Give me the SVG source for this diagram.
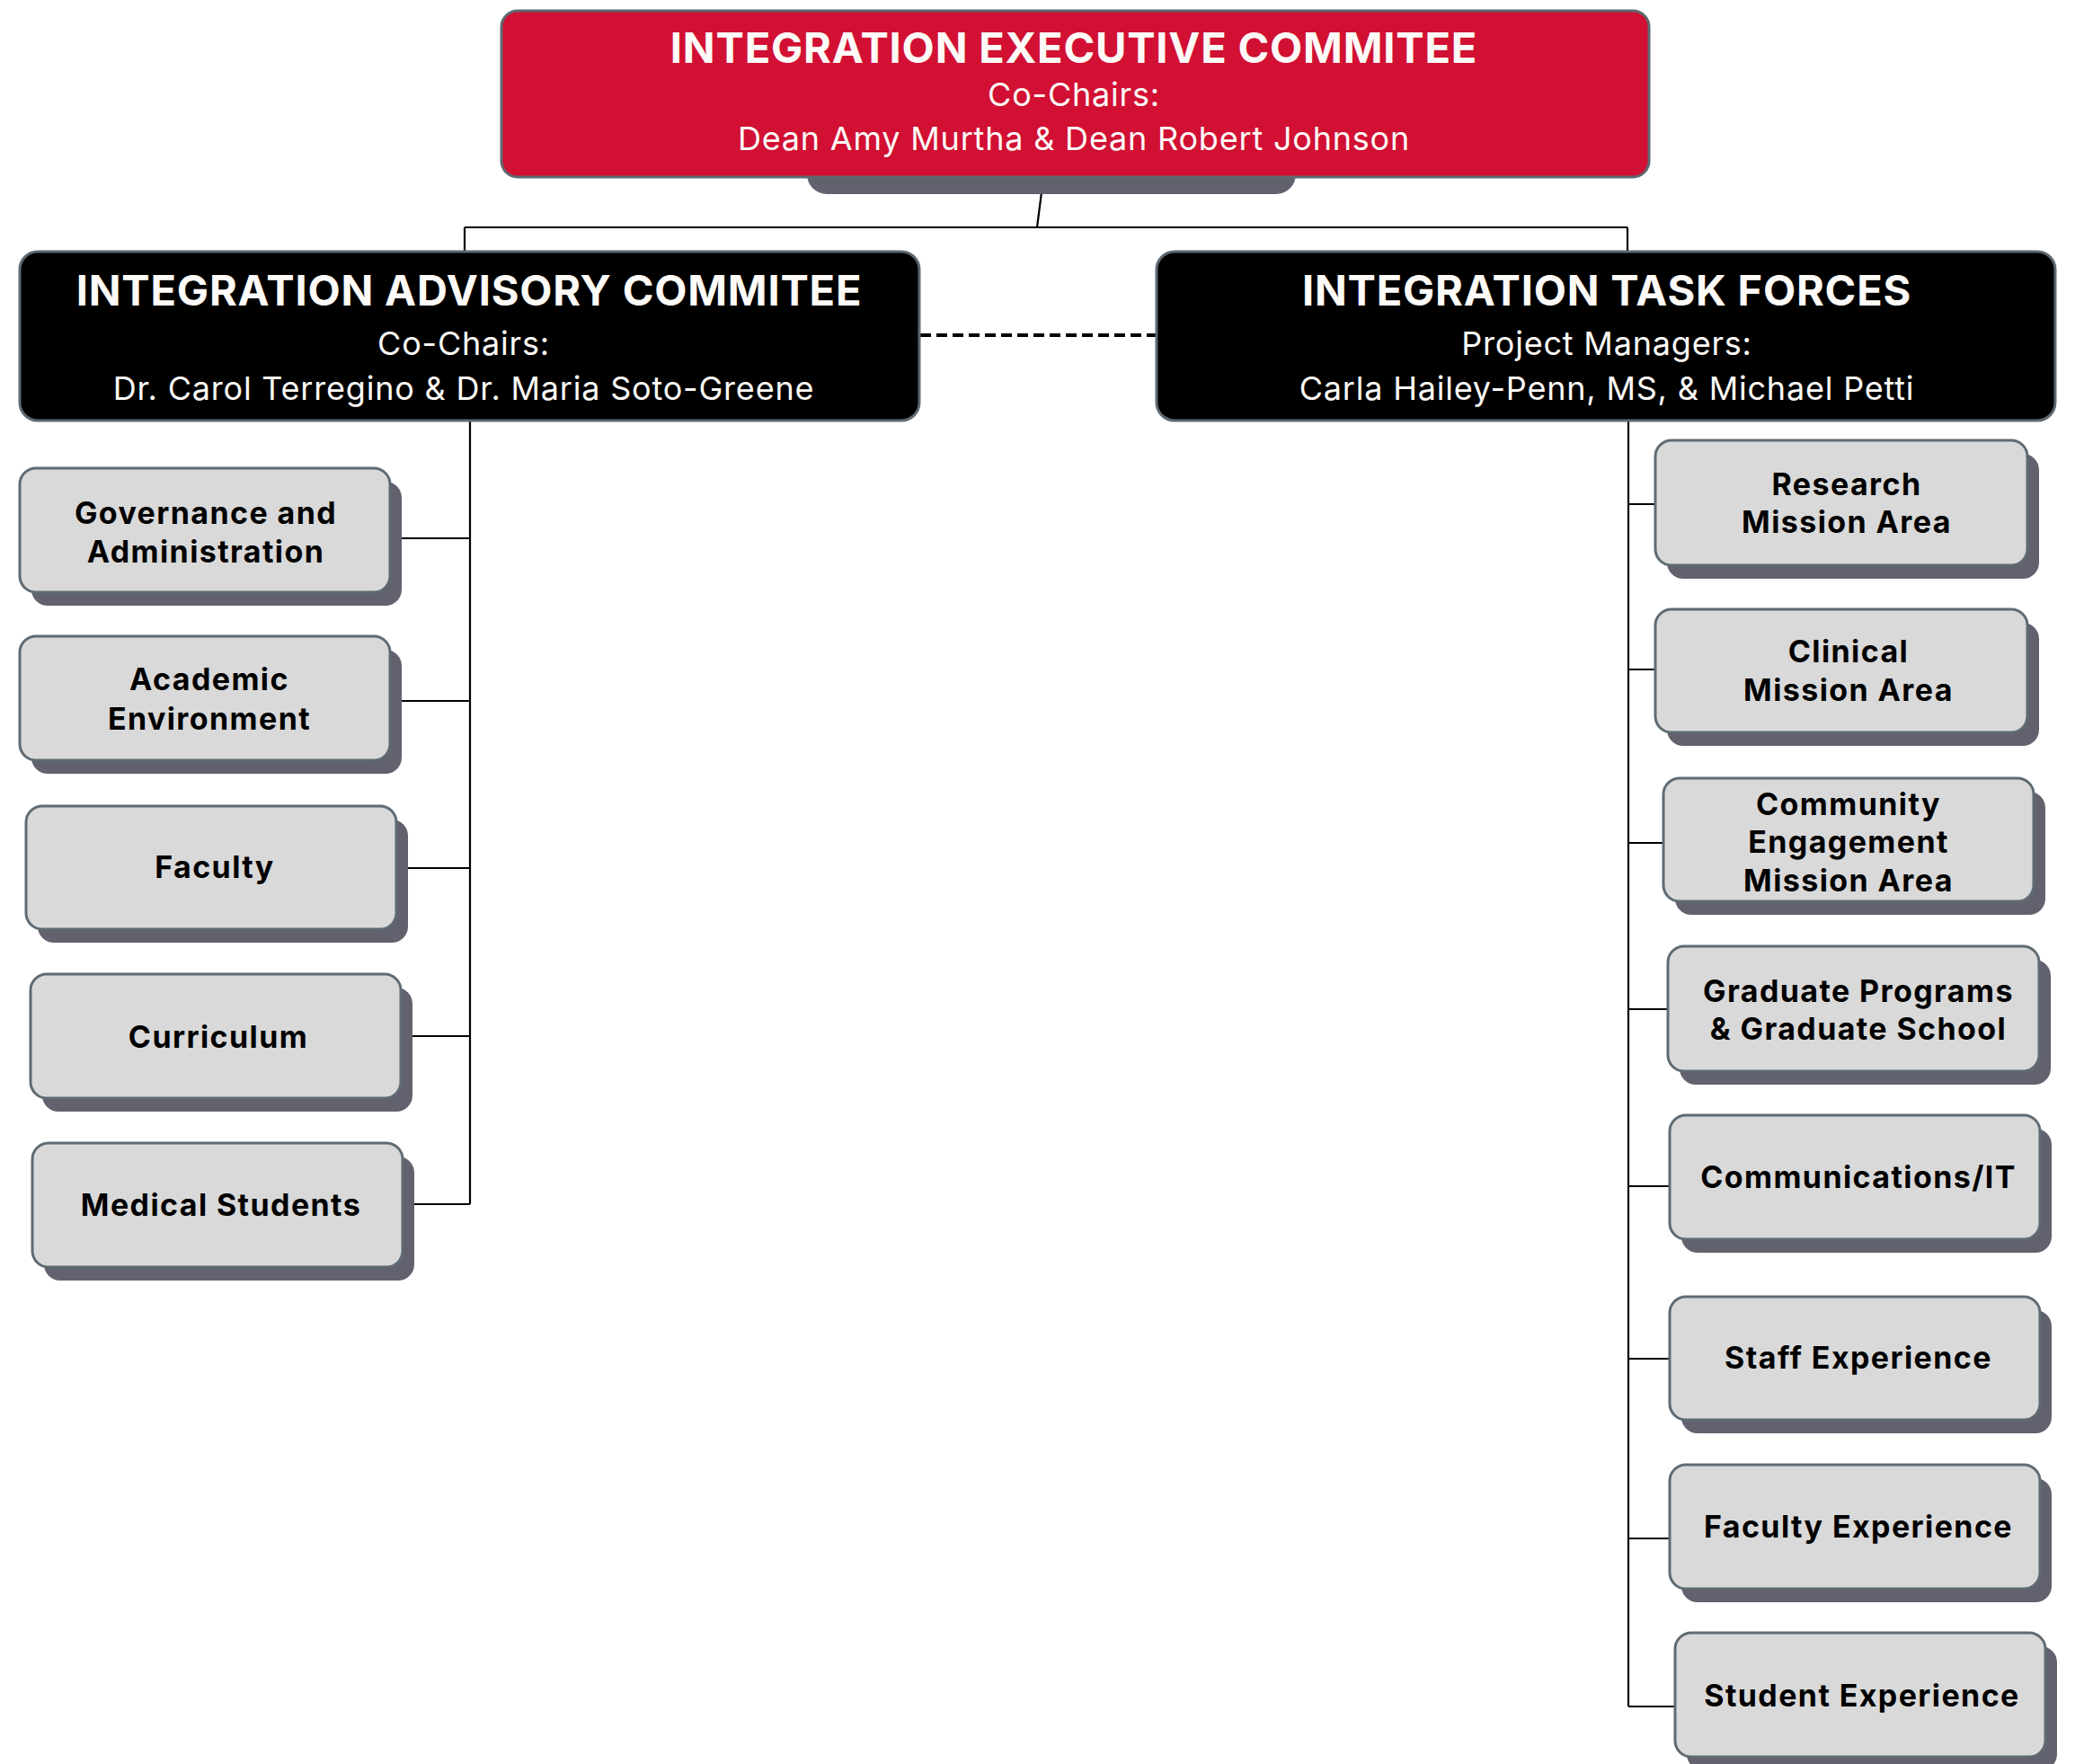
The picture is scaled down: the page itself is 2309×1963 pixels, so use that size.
<svg xmlns="http://www.w3.org/2000/svg" width="2309" height="1963" viewBox="0 0 2309 1963">
<style>
.bg{fill:#ffffff}
.hdr{stroke:#5e6870;stroke-width:3}
.red{fill:#d21033}
.blk{fill:#000000}
.shd{fill:#62616e}
.box{fill:#d9d9d9;stroke:#5f6b73;stroke-width:3}
.ttl{font-family:Inter,"Noto Sans",sans-serif;font-weight:700;font-size:47px;fill:#fdfaf7;text-anchor:middle;letter-spacing:0.8px}
.sub{font-family:Inter,"Noto Sans",sans-serif;font-weight:400;font-size:36px;fill:#fdfaf7;text-anchor:middle;letter-spacing:0.8px}
.lbl{font-family:Inter,"Noto Sans",sans-serif;font-weight:700;font-size:34px;fill:#000;text-anchor:middle;letter-spacing:1.4px}
.ln{stroke:#000;stroke-width:2.2;fill:none}
.dash{stroke:#000;stroke-width:4;stroke-dasharray:12 6;fill:none}
</style>
<rect class="bg" x="0" y="0" width="2309" height="1963"/>
<g id="connectors">
<path class="ln" d="M1159 214 L1154 253 M517 253 H1811 M517 253 V280 M1811 253 V280"/>
<path class="dash" d="M1024 373 H1286"/>
<path class="ln" d="M523 468 V1340 M447 599 H523 M447 780 H523 M454 966 H523 M459 1153 H523 M461 1340 H523"/>
<path class="ln" d="M1812 468 V1899 M1812 561 H1842 M1812 745 H1842 M1812 938 H1851 M1812 1123 H1856 M1812 1320 H1858 M1812 1512 H1858 M1812 1712 H1858 M1812 1899 H1864"/>
</g>
<g id="exec">
<rect class="shd" x="898" y="150" width="544" height="66" rx="22"/>
<rect class="red hdr" x="558" y="12" width="1277" height="185" rx="18"/>
<text class="ttl" x="1195" y="70">INTEGRATION EXECUTIVE COMMITEE</text>
<text class="sub" x="1195" y="118">Co-Chairs:</text>
<text class="sub" x="1195" y="167">Dean Amy Murtha &amp; Dean Robert Johnson</text>
</g>
<g id="advisory">
<rect class="blk hdr" x="22" y="280" width="1001" height="188" rx="20"/>
<text class="ttl" x="522" y="340">INTEGRATION ADVISORY COMMITEE</text>
<text class="sub" x="516" y="395">Co-Chairs:</text>
<text class="sub" x="516" y="445">Dr. Carol Terregino &amp; Dr. Maria Soto-Greene</text>
</g>
<g id="taskforces">
<rect class="blk hdr" x="1287" y="280" width="1000" height="188" rx="20"/>
<text class="ttl" x="1788" y="340">INTEGRATION TASK FORCES</text>
<text class="sub" x="1788" y="395">Project Managers:</text>
<text class="sub" x="1788" y="445">Carla Hailey-Penn, MS, &amp; Michael Petti</text>
</g>
<g id="governance">
<rect class="shd" x="35" y="536" width="412" height="138" rx="18"/>
<rect class="box" x="22" y="521" width="412" height="138" rx="18"/>
<text class="lbl" x="229" y="583">Governance and</text>
<text class="lbl" x="229" y="626">Administration</text>
</g>
<g id="academic">
<rect class="shd" x="35" y="723" width="412" height="138" rx="18"/>
<rect class="box" x="22" y="708" width="412" height="138" rx="18"/>
<text class="lbl" x="233" y="768">Academic</text>
<text class="lbl" x="233" y="812">Environment</text>
</g>
<g id="faculty">
<rect class="shd" x="42" y="912" width="412" height="137" rx="18"/>
<rect class="box" x="29" y="897" width="412" height="137" rx="18"/>
<text class="lbl" x="239" y="977">Faculty</text>
</g>
<g id="curriculum">
<rect class="shd" x="47" y="1099" width="412" height="138" rx="18"/>
<rect class="box" x="34" y="1084" width="412" height="138" rx="18"/>
<text class="lbl" x="243" y="1166">Curriculum</text>
</g>
<g id="medical">
<rect class="shd" x="49" y="1287" width="412" height="138" rx="18"/>
<rect class="box" x="36" y="1272" width="412" height="138" rx="18"/>
<text class="lbl" x="246" y="1353">Medical Students</text>
</g>
<g id="research">
<rect class="shd" x="1855" y="505" width="414" height="139" rx="18"/>
<rect class="box" x="1842" y="490" width="414" height="139" rx="18"/>
<text class="lbl" x="2055" y="551">Research</text>
<text class="lbl" x="2055" y="593">Mission Area</text>
</g>
<g id="clinical">
<rect class="shd" x="1855" y="693" width="414" height="137" rx="18"/>
<rect class="box" x="1842" y="678" width="414" height="137" rx="18"/>
<text class="lbl" x="2057" y="737">Clinical</text>
<text class="lbl" x="2057" y="780">Mission Area</text>
</g>
<g id="community">
<rect class="shd" x="1864" y="881" width="412" height="137" rx="18"/>
<rect class="box" x="1851" y="866" width="412" height="137" rx="18"/>
<text class="lbl" x="2057" y="907">Community</text>
<text class="lbl" x="2057" y="949">Engagement</text>
<text class="lbl" x="2057" y="992">Mission Area</text>
</g>
<g id="graduate">
<rect class="shd" x="1869" y="1068" width="413" height="139" rx="18"/>
<rect class="box" x="1856" y="1053" width="413" height="139" rx="18"/>
<text class="lbl" x="2068" y="1115">Graduate Programs</text>
<text class="lbl" x="2068" y="1157">&amp; Graduate School</text>
</g>
<g id="communications">
<rect class="shd" x="1871" y="1256" width="412" height="138" rx="18"/>
<rect class="box" x="1858" y="1241" width="412" height="138" rx="18"/>
<text class="lbl" x="2068" y="1322">Communications/IT</text>
</g>
<g id="staff">
<rect class="shd" x="1871" y="1458" width="412" height="137" rx="18"/>
<rect class="box" x="1858" y="1443" width="412" height="137" rx="18"/>
<text class="lbl" x="2068" y="1523">Staff Experience</text>
</g>
<g id="facultyexp">
<rect class="shd" x="1871" y="1645" width="412" height="138" rx="18"/>
<rect class="box" x="1858" y="1630" width="412" height="138" rx="18"/>
<text class="lbl" x="2068" y="1711">Faculty Experience</text>
</g>
<g id="student">
<rect class="shd" x="1877" y="1832" width="412" height="138" rx="18"/>
<rect class="box" x="1864" y="1817" width="412" height="138" rx="18"/>
<text class="lbl" x="2072" y="1899">Student Experience</text>
</g>
</svg>
